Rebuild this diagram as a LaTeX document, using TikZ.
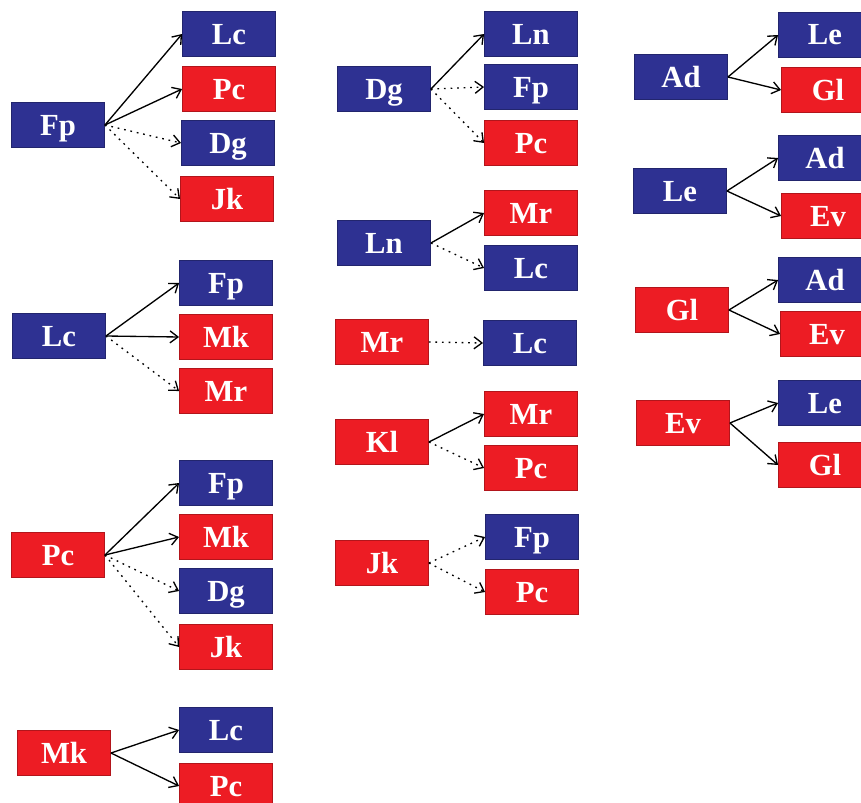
\documentclass[tikz,border=0pt]{standalone}
\usepackage{fontspec}
\setmainfont{Liberation Serif}
\usetikzlibrary{arrows.meta}
\definecolor{navy}{HTML}{2E3192}
\definecolor{scarlet}{HTML}{ED1C24}

\tikzset{
  box/.style={minimum width=70pt, minimum height=34pt, inner sep=0pt,
    text height=15pt, text depth=0pt,
    text=white, font=\bfseries\fontsize{23}{26}\selectfont},
  bluebox/.style={box, fill=navy, draw=navy!75!black},
  redbox/.style={box, fill=scarlet, draw=scarlet!75!black},
  link/.style={-{Straight Barb[length=6pt,width=9pt]}, line width=1pt},
  weak/.style={link, dash pattern=on 1.3pt off 3.6pt},
}

\begin{document}
\begin{tikzpicture}[x=0.75pt, y=-0.75pt]
  \useasboundingbox (0,0) rectangle (861,803);
  \clip (0,0) rectangle (861,803);

  % first column
  \node[bluebox] (fp) at (58,125) {Fp};
  \node[bluebox] (fp-lc) at (229,34) {Lc};
  \node[redbox] (fp-pc) at (229,89) {Pc};
  \node[bluebox] (fp-dg) at (228,143) {Dg};
  \node[redbox] (fp-jk) at (227,199) {Jk};
  \draw[link] (fp.east) -- (fp-lc.west);
  \draw[link] (fp.east) -- (fp-pc.west);
  \draw[weak] (fp.east) -- (fp-dg.west);
  \draw[weak] (fp.east) -- (fp-jk.west);

  \node[bluebox] (lc) at (59,336) {Lc};
  \node[bluebox] (lc-fp) at (226,283) {Fp};
  \node[redbox] (lc-mk) at (226,337) {Mk};
  \node[redbox] (lc-mr) at (226,391) {Mr};
  \draw[link] (lc.east) -- (lc-fp.west);
  \draw[link] (lc.east) -- (lc-mk.west);
  \draw[weak] (lc.east) -- (lc-mr.west);

  \node[redbox] (pc) at (58,555) {Pc};
  \node[bluebox] (pc-fp) at (226,483) {Fp};
  \node[redbox] (pc-mk) at (226,537) {Mk};
  \node[bluebox] (pc-dg) at (226,591) {Dg};
  \node[redbox] (pc-jk) at (226,647) {Jk};
  \draw[link] (pc.east) -- (pc-fp.west);
  \draw[link] (pc.east) -- (pc-mk.west);
  \draw[weak] (pc.east) -- (pc-dg.west);
  \draw[weak] (pc.east) -- (pc-jk.west);

  \node[redbox] (mk) at (64,753) {Mk};
  \node[bluebox] (mk-lc) at (226,730) {Lc};
  \node[redbox] (mk-pc) at (226,786) {Pc};
  \draw[link] (mk.east) -- (mk-lc.west);
  \draw[link] (mk.east) -- (mk-pc.west);

  % second column
  \node[bluebox] (dg) at (384,89) {Dg};
  \node[bluebox] (dg-ln) at (531,34) {Ln};
  \node[bluebox] (dg-fp) at (531,87) {Fp};
  \node[redbox] (dg-pc) at (531,143) {Pc};
  \draw[link] (dg.east) -- (dg-ln.west);
  \draw[weak] (dg.east) -- (dg-fp.west);
  \draw[weak] (dg.east) -- (dg-pc.west);

  \node[bluebox] (ln) at (384,243) {Ln};
  \node[redbox] (ln-mr) at (531,213) {Mr};
  \node[bluebox] (ln-lc) at (531,268) {Lc};
  \draw[link] (ln.east) -- (ln-mr.west);
  \draw[weak] (ln.east) -- (ln-lc.west);

  \node[redbox] (mr) at (382,342) {Mr};
  \node[bluebox] (mr-lc) at (530,343) {Lc};
  \draw[weak] (mr.east) -- (mr-lc.west);

  \node[redbox] (kl) at (382,442) {Kl};
  \node[redbox] (kl-mr) at (531,414) {Mr};
  \node[redbox] (kl-pc) at (531,468) {Pc};
  \draw[link] (kl.east) -- (kl-mr.west);
  \draw[weak] (kl.east) -- (kl-pc.west);

  \node[redbox] (jk) at (382,563) {Jk};
  \node[bluebox] (jk-fp) at (532,537) {Fp};
  \node[redbox] (jk-pc) at (532,592) {Pc};
  \draw[weak] (jk.east) -- (jk-fp.west);
  \draw[weak] (jk.east) -- (jk-pc.west);

  % third column
  \node[bluebox] (ad) at (681,77) {Ad};
  \node[bluebox] (ad-le) at (825,35) {Le};
  \node[redbox] (ad-gl) at (828,90) {Gl};
  \draw[link] (ad.east) -- (ad-le.west);
  \draw[link] (ad.east) -- (ad-gl.west);

  \node[bluebox] (le) at (680,191) {Le};
  \node[bluebox] (le-ad) at (825,158) {Ad};
  \node[redbox] (le-ev) at (828,216) {Ev};
  \draw[link] (le.east) -- (le-ad.west);
  \draw[link] (le.east) -- (le-ev.west);

  \node[redbox] (gl) at (682,310) {Gl};
  \node[bluebox] (gl-ad) at (825,280) {Ad};
  \node[redbox] (gl-ev) at (827,334) {Ev};
  \draw[link] (gl.east) -- (gl-ad.west);
  \draw[link] (gl.east) -- (gl-ev.west);

  \node[redbox] (ev) at (683,423) {Ev};
  \node[bluebox] (ev-le) at (825,403) {Le};
  \node[redbox] (ev-gl) at (825,465) {Gl};
  \draw[link] (ev.east) -- (ev-le.west);
  \draw[link] (ev.east) -- (ev-gl.west);
\end{tikzpicture}
\end{document}
